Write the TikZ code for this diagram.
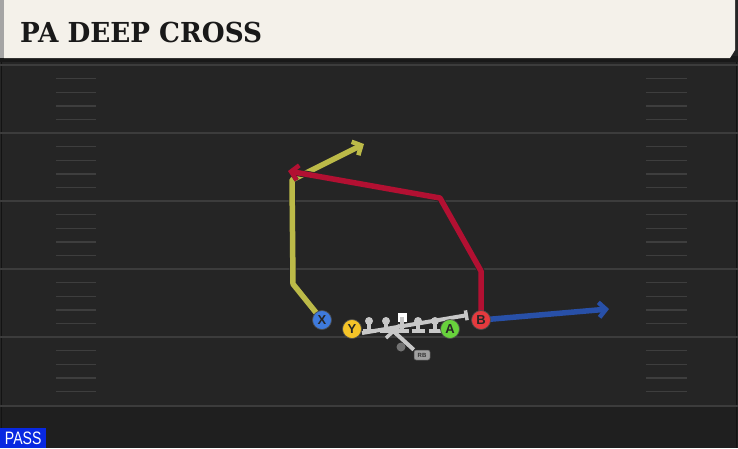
\documentclass[tikz,border=0pt]{standalone}
\usepackage{fontspec}
\usetikzlibrary{arrows.meta}
\newfontfamily\titlefont{DejaVu Serif}
\newfontfamily\labelfont{Liberation Sans}
\definecolor{fieldbg}{RGB}{37,37,37}
\definecolor{fieldlow}{RGB}{31,31,31}
\definecolor{fieldline}{RGB}{60,60,60}
\definecolor{hashc}{RGB}{62,62,62}
\definecolor{cream}{RGB}{244,241,234}
\definecolor{stripe}{RGB}{165,165,165}
\definecolor{yroute}{RGB}{188,186,72}
\definecolor{rroute}{RGB}{178,16,50}
\definecolor{broute}{RGB}{40,80,168}
\definecolor{xcol}{RGB}{62,122,220}
\definecolor{ycol}{RGB}{245,196,40}
\definecolor{acol}{RGB}{104,210,60}
\definecolor{bcol}{RGB}{228,58,62}
\definecolor{olgray}{RGB}{200,200,200}
\definecolor{passblue}{RGB}{8,40,225}
\tikzset{
  route/.style={line width=5.5pt, line join=round, preaction={draw=black!85, line width=7pt}},
  rtip/.style={-{Straight Barb[length=7pt,width=15pt,line width=4.5pt]}},
  player/.style={circle, draw=black!70, line width=0.7pt, minimum size=19pt, inner sep=0pt,
     font=\labelfont\bfseries\fontsize{13}{13}\selectfont, text=black!85},
  lineman/.style={circle, fill=olgray, minimum size=8pt, inner sep=0pt},
  olbar/.style={draw=olgray, line width=3.5pt},
  hash/.style={draw=hashc, line width=1.4pt},
  fline/.style={draw=fieldline, line width=1.6pt},
}
\begin{document}
\begin{tikzpicture}[x=1pt,y=-1pt]
\useasboundingbox (0,0) rectangle (738,448);
% field
\fill[fieldbg] (0,0) rectangle (738,448);
\fill[fieldlow] (0,406) rectangle (738,448);
\draw[black!50!fieldbg, line width=1pt] (1.5,62) -- (1.5,428);
\draw[black!50!fieldbg, line width=1pt] (736.5,62) -- (736.5,448);
% yard lines
\foreach \y in {65,133,201,269,337,406} {
  \draw[fline] (0,\y) -- (738,\y);
}
% hash marks
\foreach \y in {65,133,201,269,337} {
  \foreach \k in {1,2,3,4} {
    \draw[hash] (56,\y+13.6*\k) -- (96,\y+13.6*\k);
    \draw[hash] (646,\y+13.6*\k) -- (687,\y+13.6*\k);
  }
}
% header
\fill[black!90] (0,56) rectangle (738,62);
\fill[cream] (4,0) -- (735,0) -- (735,50) -- (730,58) -- (4,58) -- cycle;
\fill[stripe] (0,0) rectangle (4,58);
\node[anchor=base west, inner sep=0pt, text=black!90, font=\titlefont\bfseries\fontsize{27.5}{30}\selectfont] (title) at (20,42) {\scalebox{0.955}[1]{PA DEEP CROSS}};

% players (coordinates)
\coordinate (Xp) at (322,320);
\coordinate (Bp) at (481,320);
% route waypoints
\coordinate (x1) at (293,284);
\coordinate (x2) at (292,180);
\coordinate (x3) at (364,144);
\coordinate (b1) at (481,271);
\coordinate (b2) at (440,198);
\coordinate (b3) at (288,171);
\coordinate (b4) at (609,309);

% routes
\draw[route, draw=yroute, rtip] (Xp) -- (x1) -- (x2) -- (x3);
\draw[route, draw=broute, rtip] (Bp) -- (b4);
\draw[route, draw=rroute, rtip] (Bp) -- (b1) -- (b2) -- (b3);

% offensive line
\coordinate (s1) at (362,333);
\coordinate (s2) at (468,315);
\draw[olbar, line width=4pt, -{Bar[width=10pt,line width=3.5pt]}] (s1) -- (s2);
\foreach \n/\x in {l1/369,l2/386,l4/418,l5/435} {
  \node[lineman] (\n) at (\x,321) {};
  \draw[olbar] (\n.center) -- (\x,331);
  \draw[olbar] (\x-6.5,331) -- (\x+6.5,331);
}
\node[fill=white, minimum size=9pt, inner sep=0pt] (C) at (402,317) {};
\draw[olbar] (C.center) -- (402,331);
\draw[olbar] (395.5,331) -- (408.5,331);
% QB / RB
\node[circle, fill=black!55, minimum size=9pt, inner sep=0pt] (QB) at (401,347) {};
\node[rounded corners=2pt, fill=olgray!80!black, draw=black!70, line width=0.5pt, minimum width=16pt, minimum height=10pt, inner sep=0pt,
      font=\labelfont\bfseries\fontsize{6}{6}\selectfont, text=black!80] (RB) at (422,355) {RB};
\coordinate (rb0) at (391,329);
\draw[olbar, line width=4pt] (rb0) -- (RB.north west);
\coordinate (q1) at (400,325);
\coordinate (q2) at (386,338);
\draw[olbar, line width=3.5pt] (q1) -- (q2);

% skill players
\node[player, fill=xcol] (X) at (Xp) {X};
\node[player, fill=ycol] (Y) at (352,329) {Y};
\node[player, fill=acol] (A) at (450,329) {A};
\node[player, fill=bcol] (B) at (Bp) {B};

% pass tag
\node[anchor=south west, fill=passblue, text=white, minimum width=46pt, minimum height=20pt, inner sep=0pt,
      font=\labelfont\fontsize{18}{18}\selectfont] (pass) at (0,448) {\scalebox{0.78}[1]{PASS}};
\end{tikzpicture}
\end{document}
